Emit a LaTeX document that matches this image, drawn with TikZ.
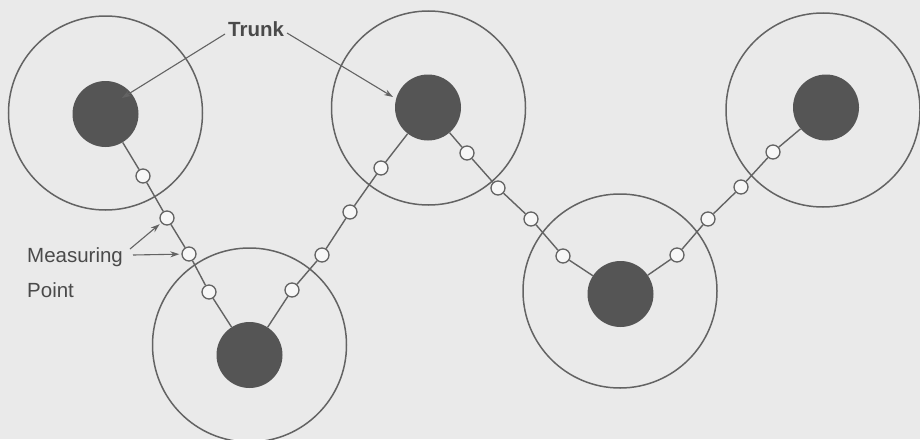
\documentclass[tikz,border=0pt]{standalone}
\usepackage{fontspec}
\setmainfont{Liberation Sans}
\usetikzlibrary{arrows.meta}
\definecolor{paper}{HTML}{EAEAEA}
\definecolor{ink}{HTML}{636363}
\definecolor{core}{HTML}{555555}
\definecolor{labelink}{HTML}{4A4A4A}
\tikzset{
  zone/.style={circle, draw=ink, line width=1.5pt, minimum size=194pt, inner sep=0pt},
  nodecore/.style={circle, fill=core, minimum size=66pt, inner sep=0pt},
  mpoint/.style={circle, draw=ink, fill=white!60!paper, line width=1.3pt, minimum size=14pt, inner sep=0pt},
  link/.style={draw=ink, line width=1.4pt},
  callout/.style={draw=ink, line width=1.1pt, -{Stealth[length=9pt,width=6pt]}},
  lbl/.style={text=labelink, inner sep=0pt, font=\fontsize{20.5}{24}\selectfont}
}
\begin{document}
\begin{tikzpicture}[x=1pt,y=-1pt]
  \useasboundingbox (0,0) rectangle (920,439);
  \fill[paper] (0,0) rectangle (920,439);
  \begin{scope}
  \clip (0,0) rectangle (920,439);
  % coverage zones
  \node[zone] (z1) at (105.5,113) {};
  \node[zone] (z2) at (428.5,108) {};
  \node[zone] (z3) at (823,110) {};
  \node[zone] (z4) at (249.5,345) {};
  \node[zone] (z5) at (620,291) {};
  \end{scope}
  % central units
  \node[nodecore] (c1) at (105.5,114) {};
  \node[nodecore] (c2) at (428,107.5) {};
  \node[nodecore] (c3) at (826,107.5) {};
  \node[nodecore] (c4) at (249.5,355) {};
  \node[nodecore] (c5) at (620.5,294) {};
  % measuring points along each branch
  \node[mpoint] (a1) at (143,176) {};
  \node[mpoint] (a2) at (167,218) {};
  \node[mpoint] (a3) at (189,254) {};
  \node[mpoint] (a4) at (209,292) {};
  \node[mpoint] (b1) at (381,168) {};
  \node[mpoint] (b2) at (350,212) {};
  \node[mpoint] (b3) at (322,255) {};
  \node[mpoint] (b4) at (292,290) {};
  \node[mpoint] (d1) at (467,153) {};
  \node[mpoint] (d2) at (498,188) {};
  \node[mpoint] (d3) at (531,219) {};
  \node[mpoint] (d4) at (563,256) {};
  \node[mpoint] (e1) at (773,152) {};
  \node[mpoint] (e2) at (741,187) {};
  \node[mpoint] (e3) at (708,219) {};
  \node[mpoint] (e4) at (677,255) {};
  % branches
  \path[link] (c1) -- (a1) -- (a2) -- (a3) -- (a4) -- (c4);
  \path[link] (c2) -- (b1) -- (b2) -- (b3) -- (b4) -- (c4);
  \path[link] (c2) -- (d1) -- (d2) -- (d3) -- (d4) -- (c5);
  \path[link] (c3) -- (e1) -- (e2) -- (e3) -- (e4) -- (c5);
  % labels
  \node[lbl, anchor=base west, font=\fontsize{20.5}{24}\selectfont\bfseries] (trunk) at (228,36) {Trunk};
  \node[lbl, anchor=base west] (meas) at (27,262) {Measuring};
  \node[lbl, anchor=base west] (point) at (27,297) {Point};
  % callout arrows
  \coordinate (t1) at (225,34);
  \coordinate (t2) at (287,33);
  \coordinate (t1end) at (122,98);
  \coordinate (t2end) at (393,97);
  \draw[callout] (t1) -- (t1end);
  \draw[callout] (t2) -- (t2end);
  \coordinate (m1) at (130,249);
  \coordinate (m2) at (133,255);
  \draw[callout, shorten >=2pt] (m1) -- (a2);
  \draw[callout, shorten >=2pt] (m2) -- (a3);
\end{tikzpicture}
\end{document}
